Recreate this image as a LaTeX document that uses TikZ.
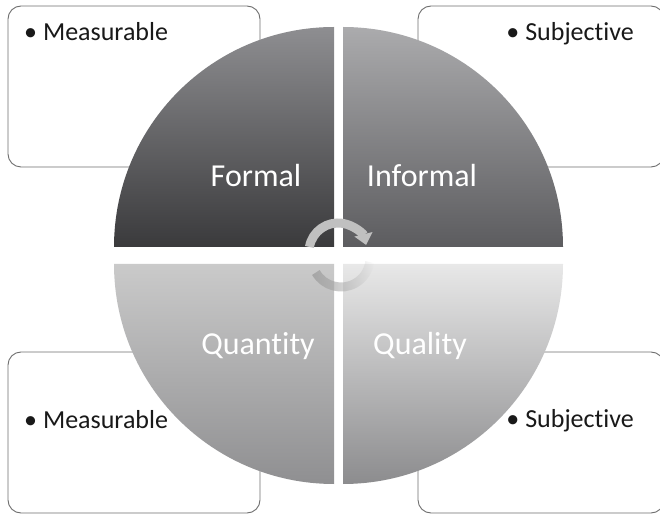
\documentclass[tikz,border=0pt]{standalone}
\usepackage{fontspec}
\setmainfont{Carlito}[Ligatures=NoCommon]
\usepackage{tikz}
\usetikzlibrary{arrows.meta,positioning,fadings}

\definecolor{boxline}{HTML}{6E6E6E}
\definecolor{formtop}{HTML}{8E8E91}
\definecolor{formbot}{HTML}{3A3A3C}
\definecolor{inftop}{HTML}{ABABAD}
\definecolor{infbot}{HTML}{5C5C5F}
\definecolor{quantop}{HTML}{CACACA}
\definecolor{quanbot}{HTML}{8F8F91}
\definecolor{qualtop}{HTML}{E8E8E8}
\definecolor{qualbot}{HTML}{8C8C8E}
\definecolor{cyclegray}{HTML}{C0C0C0}

\begin{document}
\begin{tikzpicture}[x=1pt, y=1pt, >=Stealth,
    infobox/.style={draw=boxline, line width=0.9pt, rounded corners=13pt, fill=white},
    quadlabel/.style={text=white, font=\fontsize{32}{36}\selectfont, inner sep=0pt, anchor=base},
    itemtext/.style={text=black!90, font=\fontsize{26}{30}\selectfont, inner sep=0pt},
    cyclearrow/.style={draw=cyclegray, line width=9pt}]
	\useasboundingbox (0,0) rectangle (660,514);

	% boxes sit behind the circle
	\draw[infobox] (8,347) rectangle (260,508);
	\draw[infobox] (418,347) rectangle (664,508);
	\draw[infobox] (8,1) rectangle (260,162);
	\draw[infobox] (418,1) rectangle (664,162);

	% the four quarters
	\shade[top color=formtop, bottom color=formbot] (334,267) -- ++(180:220) arc (180:90:220) -- cycle;
	\shade[top color=inftop, bottom color=infbot] (343,267) -- ++(90:220) arc (90:0:220) -- cycle;
	\shade[top color=quantop, bottom color=quanbot] (334,250) -- ++(270:220) arc (270:180:220) -- cycle;
	\shade[top color=qualtop, bottom color=qualbot] (343,250) -- ++(0:220) arc (0:-90:220) -- cycle;

	\node[quadlabel] (formal) at (256,327) {Formal};
	\node[quadlabel] (informal) at (422,327) {Informal};
	\node[quadlabel] (quantity) at (258,160) {Quantity};
	\node[quadlabel] (quality) at (420,160) {Quality};

	\node[itemtext, anchor=base west] (measA) at (24,473) {• Measurable};
	\node[itemtext, anchor=base east] (subjA) at (634,473) {• Subjective};
	\node[itemtext, anchor=base west] (measB) at (24,86) {• Measurable};
	\node[itemtext, anchor=base east] (subjB) at (634,87) {• Subjective};

	% cycle arrows in the middle
	\draw[cyclearrow, -{Triangle[width=18pt,length=11pt]}] (338,262) ++(170:29) arc (170:14:29);
	\draw[cyclearrow, draw=black!35, path fading=east] (341,256) ++(210:29) arc (210:352:29);
\end{tikzpicture}
\end{document}
